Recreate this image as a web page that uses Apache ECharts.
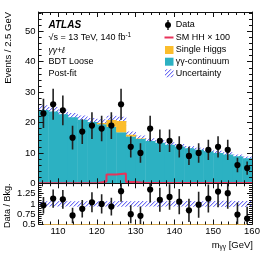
<!DOCTYPE html>
<html><head><meta charset="utf-8">
<script src="https://cdn.jsdelivr.net/npm/echarts@6/dist/echarts.min.js"></script>
<style>html,body{margin:0;padding:0;background:#fff}#c{width:266px;height:255px}</style>
</head><body><div id="c"></div>
<script>
// ---- data ----
const binEdges = [105,107.5,110,112.5,115,117.5,120,122.5,125,127.5,130,132.5,135,137.5,140,142.5,145,147.5,150,152.5,155,157.5,160];
const binCenters = [106.25,108.75,111.25,113.75,116.25,118.75,121.25,123.75,126.25,128.75,131.25,133.75,136.25,138.75,141.25,143.75,146.25,148.75,151.25,153.75,156.25,158.75];
const dataCounts = [23,26,24,15,17,19,18,19,26,12,10,18,14,14,12,9,10,11,12,11,6,5];
const dataErr = [4.8,5.1,4.9,3.9,4.1,4.4,4.2,4.4,5.1,3.5,3.2,4.2,3.7,3.7,3.5,3.0,3.2,3.3,3.5,3.3,2.4,2.2];
const continuum = [24.1,23.6,22.7,21.7,20.9,20.2,19.4,18.6,16.8,15.4,14.6,13.9,13.3,12.7,12.1,11.5,11.0,10.5,10.0,9.5,8.9,8.2];
const singleHiggs = [0,0,0,0,0,0,0.4,2.2,3.7,0.6,0.1,0,0,0,0,0,0,0,0,0,0,0];
const uncertainty = [1.6,1.5,1.5,1.4,1.4,1.3,1.3,1.4,1.4,1.0,1.0,0.9,0.9,0.8,0.8,0.8,0.7,0.7,0.7,0.7,0.6,0.6];
const hhX100 = [0.05,0.05,0.05,0.05,0.05,0.05,0.6,2.9,3.2,0.4,0.1,0.1,0.1,0.1,0.1,0.1,0.1,0.1,0.1,0.1,0.1,0.1];
const ratio = [0.966,1.13,1.11,0.72,0.88,1.04,1.0,0.935,1.31,0.75,0.71,1.35,1.10,1.17,1.055,0.845,0.98,1.13,1.30,1.26,0.74,0.645];
const xTicks = [110,120,130,140,150,160];
const yTicksMain = [0,10,20,30,40,50];
const yTicksRatio = [0.5,0.75,1,1.25];

// ---- styles ----
const TEAL = '#2cb1c2', ORANGE = '#fbbd2c', RED = '#e8335a', FONT = 'Liberation Sans, Arial, sans-serif';
const hatch = document.createElement('canvas');
hatch.width = 4; hatch.height = 4;
(function(){const g = hatch.getContext('2d');
 g.clearRect(0,0,4,4);
 g.fillStyle = 'rgba(86,86,240,0.85)';
 for (let i=0;i<4;i++) g.fillRect(i,3-i,1,1);
 g.fillStyle = 'rgba(150,150,250,0.45)';
 for (let i=0;i<4;i++) g.fillRect((i+1)%4,3-i,1,1);
})();
const HATCH = {image: hatch, repeat: 'repeat'};

const chart = echarts.init(document.getElementById('c'), null, {renderer:'canvas'});

function rectSeries(lo, hi, fill, z, ai) {
  return {type:'custom', xAxisIndex:ai, yAxisIndex:ai, z:z, clip:true, silent:true,
    data: lo.map((l,i)=>[binEdges[i], binEdges[i+1], l, hi[i]]),
    encode:{x:[0,1], y:[2,3]},
    renderItem(params, api){
      const p0 = api.coord([api.value(0), api.value(3)]);
      const p1 = api.coord([api.value(1), api.value(2)]);
      return {type:'rect', shape:{x:p0[0], y:p0[1], width:p1[0]-p0[0]+0.4, height:p1[1]-p0[1]}, style:{fill:fill}};
    }};
}
function pointSeries(vals, errs, ai) {
  return {type:'custom', xAxisIndex:ai, yAxisIndex:ai, z:6, clip:true, silent:true,
    data: vals.map((v,i)=>[binCenters[i], v, errs[i]]),
    encode:{x:0, y:1},
    renderItem(params, api){
      const x = api.value(0), y = api.value(1), e = api.value(2);
      const c = api.coord([x,y]), t = api.coord([x,y+e]), b = api.coord([x,y-e]);
      return {type:'group', children:[
        {type:'line', shape:{x1:c[0],y1:t[1],x2:c[0],y2:b[1]}, style:{stroke:'#222', lineWidth:1.6}},
        {type:'circle', shape:{cx:c[0],cy:c[1],r:3.1}, style:{fill:'#000'}}
      ]};
    }};
}

const total = continuum.map((b,i)=>b+singleHiggs[i]);
const uncLo = total.map((t,i)=>t-uncertainty[i]);
const uncHi = total.map((t,i)=>t+uncertainty[i]);
const relUnc = uncertainty.map((u,i)=>u/total[i]);
const ratioErr = ratio.map((r,i)=>r*dataErr[i]/dataCounts[i]);
const hhLine = binEdges.map((e,i)=>[e, hhX100[Math.min(i, hhX100.length-1)]]);

function xAx(grid, pos, labels, lineColor){
  return {gridIndex:grid, type:'value', min:105, max:160, splitNumber:5, position:pos, z:10,
    axisLine:{onZero:false, lineStyle:{color:lineColor||'#111', width:1}},
    axisTick:{inside:true, length:5, lineStyle:{color:'#111'}},
    minorTick:{show:true, splitNumber:5, length:3, lineStyle:{color:'#111'}},
    splitLine:{show:false},
    axisLabel:{show:labels, showMinLabel:false, fontSize:9.5, fontFamily:FONT, color:'#000', margin:2,
      formatter:v=> xTicks.indexOf(v)>=0 ? String(v) : ''}};
}
function yAx(grid, pos, labels, min, max, interval, ticks){
  return {gridIndex:grid, type:'value', min:min, max:max, interval:interval, position:pos, z:10,
    axisLine:{show:true, onZero:false, lineStyle:{color:'#111', width:1}},
    axisTick:{show:true, inside:true, length:5, lineStyle:{color:'#111'}},
    minorTick:{show:true, splitNumber:5, length:3, lineStyle:{color:'#111'}},
    splitLine:{show:false},
    axisLabel:{show:labels, fontSize:9.5, fontFamily:FONT, color:'#000', margin:3, showMaxLabel:false,
      formatter:v=> ticks.indexOf(v)>=0 ? String(v) : ''}};
}

function txt(x, y, text, opts){
  return Object.assign({type:'text', x:x, y:y, z:20, silent:true,
    style:Object.assign({text:text, fill:'#000', font:'9px '+FONT, verticalAlign:'middle', align:'left'}, opts||{})});
}

const option = {
  animation:false,
  backgroundColor:'#fff',
  grid:[
    {left:38.6, right:14, top:12, height:171.3},
    {left:38.6, right:14, top:183.3, height:41.2}
  ],
  xAxis:[ xAx(0,'bottom',false), xAx(1,'bottom',true,'#d8aa50'), xAx(0,'top',false), xAx(1,'top',false) ],
  yAxis:[ yAx(0,'left',true,0,56.35,10,yTicksMain), yAx(1,'left',true,0.5,1.5,0.25,yTicksRatio),
          yAx(0,'right',false,0,56.35,10,yTicksMain), yAx(1,'right',false,0.5,1.5,0.25,yTicksRatio) ],
  series:[
    rectSeries(uncLo, uncHi, HATCH, 2, 0),
    rectSeries(continuum.map(()=>0), continuum, TEAL, 3, 0),
    rectSeries(continuum, total, ORANGE, 3, 0),
    {type:'line', xAxisIndex:0, yAxisIndex:0, data:hhLine, step:'end', symbol:'none', z:5, silent:true,
     lineStyle:{color:RED, width:2}},
    pointSeries(dataCounts, dataErr, 0),
    rectSeries(relUnc.map(u=>1-u), relUnc.map(u=>1+u), HATCH, 2, 1),
    pointSeries(ratio, ratioErr, 1)
  ],
  graphic:[
    txt(48.5, 25, 'ATLAS', {font:'italic bold 10px '+FONT}),
    txt(48.5, 37.7, '\u221As = 13 TeV, 140 fb{sup|-1}', {rich:{sup:{font:'6.5px '+FONT, verticalAlign:'top', padding:[0,0,5,0]}}}),
    txt(48.5, 50.5, '\u03B3\u03B3+\u2113', {font:'italic 8.5px '+FONT}),
    txt(48.5, 62, 'BDT Loose'),
    txt(48.5, 73.3, 'Post-fit'),
    // legend
    {type:'line', shape:{x1:168,y1:20,x2:168,y2:30}, style:{stroke:'#222', lineWidth:1.5}, z:20},
    {type:'circle', shape:{cx:168, cy:25, r:3}, style:{fill:'#000'}, z:20},
    txt(175.7, 25, 'Data'),
    {type:'line', shape:{x1:164.5,y1:37.5,x2:173.5,y2:37.5}, style:{stroke:RED, lineWidth:2}, z:20},
    txt(175.7, 37.5, 'SM HH \u00D7 100'),
    {type:'rect', shape:{x:165, y:46, width:8.5, height:8}, style:{fill:ORANGE}, z:20},
    txt(175.7, 50, 'Single Higgs'),
    {type:'rect', shape:{x:165, y:57.7, width:8.5, height:8}, style:{fill:TEAL}, z:20},
    txt(175.7, 61.7, '\u03B3\u03B3-continuum'),
    {type:'rect', shape:{x:165, y:69.3, width:8.5, height:8}, style:{fill:HATCH}, z:20},
    txt(175.7, 73.3, 'Uncertainty'),
    // axis titles
    txt(8, 12, 'Events / 2.5 GeV', {align:'right', font:'9.5px '+FONT}),
    txt(8, 183.5, 'Data / Bkg.', {align:'right', font:'9px '+FONT}),
    txt(253, 245, 'm{sub|\u03B3\u03B3} [GeV]', {align:'right', font:'9.5px '+FONT, rich:{sub:{font:'6.5px '+FONT, verticalAlign:'bottom', padding:[4,0,0,0]}}})
  ]
};
option.graphic[option.graphic.length-3].rotation = Math.PI/2;
option.graphic[option.graphic.length-2].rotation = Math.PI/2;
chart.setOption(option);
</script></body></html>
